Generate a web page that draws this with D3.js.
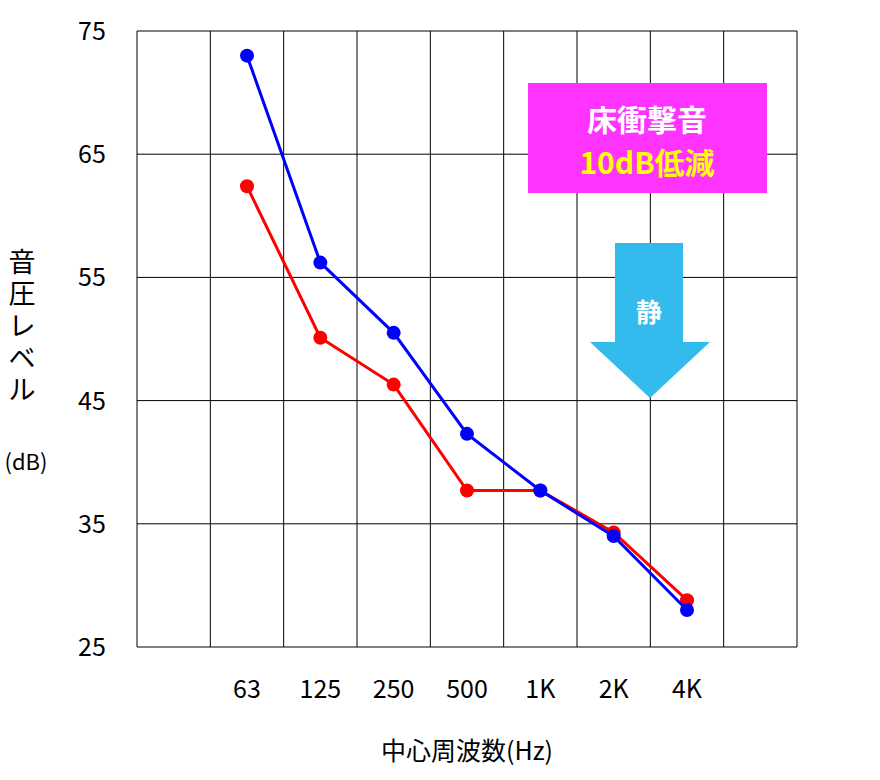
<!DOCTYPE html>
<html><head><meta charset="utf-8">
<script src="https://cdn.jsdelivr.net/npm/d3@7"></script>
<style>body{margin:0;background:#fff;font-family:"Noto Sans CJK JP","Noto Sans",sans-serif;}</style>
</head><body>
<svg id="chart" width="880" height="780"></svg>
<script>
// data
const bands = ["63", "125", "250", "500", "1K", "2K", "4K"];
const slots = ["", ...bands, ""];
const blueValues = [73, 56.2, 50.5, 42.3, 37.7, 34.0, 28.0];
const redValues = [62.4, 50.1, 46.3, 37.7, 37.7, 34.3, 28.8];
const yTicks = [25, 35, 45, 55, 65, 75];

const plotLeft = 137, plotRight = 797, plotTop = 31, plotBottom = 647;
const svg = d3.select("#chart");

const x = d3.scaleBand().domain(slots.map((d, i) => i)).range([plotLeft, plotRight]);
const y = d3.scaleLinear().domain([25, 75]).range([plotBottom, plotTop]);

// grid
svg.append("g").selectAll("line").data(d3.range(slots.length + 1)).join("line")
    .attr("x1", i => plotLeft + i * x.step()).attr("x2", i => plotLeft + i * x.step())
    .attr("y1", plotTop).attr("y2", plotBottom)
    .attr("stroke", "#000").attr("stroke-width", 1);
svg.append("g").selectAll("line").data(yTicks).join("line")
    .attr("x1", plotLeft).attr("x2", plotRight)
    .attr("y1", d => y(d)).attr("y2", d => y(d))
    .attr("stroke", "#000").attr("stroke-width", 1);

// y labels
svg.append("g").selectAll("text").data(yTicks).join("text")
    .attr("x", 92).attr("y", d => y(d) + 9)
    .attr("text-anchor", "middle").attr("font-size", 25).text(d => d);

// x labels
svg.append("g").selectAll("text").data(bands).join("text")
    .attr("x", (d, i) => x(i + 1) + x.bandwidth() / 2).attr("y", 698)
    .attr("text-anchor", "middle").attr("font-size", 25).text(d => d);

// titles
svg.append("text").attr("x", 467).attr("y", 760).attr("text-anchor", "middle")
    .attr("font-size", 25).text("中心周波数(Hz)");
["音", "圧", "レ", "ベ", "ル"].forEach((c, i) => {
    svg.append("text").attr("x", 22).attr("y", 272 + i * 32).attr("text-anchor", "middle")
        .attr("font-size", 27).text(c);
});
svg.append("text").attr("x", 26).attr("y", 470).attr("text-anchor", "middle")
    .attr("font-size", 22).text("(dB)");

// callout box
svg.append("rect").attr("x", 528).attr("y", 83).attr("width", 239).attr("height", 110).attr("fill", "#ff33ff");
svg.append("text").attr("x", 647).attr("y", 131).attr("text-anchor", "middle")
    .attr("font-size", 30).attr("font-weight", "bold").attr("fill", "#fff").text("床衝撃音");
svg.append("text").attr("x", 647).attr("y", 174).attr("text-anchor", "middle")
    .attr("font-size", 30).attr("font-weight", "bold").attr("fill", "#ffff00").text("10dB低減");

// arrow
svg.append("path").attr("d", "M615,243H683V342H710L650,398L590,342H615Z").attr("fill", "#33bbee");
svg.append("text").attr("x", 649).attr("y", 322).attr("text-anchor", "middle")
    .attr("font-size", 26).attr("font-weight", "bold").attr("fill", "#fff").text("静");

// series
const cx = i => x(i + 1) + x.bandwidth() / 2;
const line = d3.line().x((d, i) => cx(i)).y(d => y(d));
[[redValues, "#ff0000"], [blueValues, "#0000ff"]].forEach(([vals, col]) => {
    svg.append("path").datum(vals).attr("d", line).attr("fill", "none")
        .attr("stroke", col).attr("stroke-width", 3);
    svg.append("g").selectAll("circle").data(vals).join("circle")
        .attr("cx", (d, i) => cx(i)).attr("cy", d => y(d)).attr("r", 7).attr("fill", col);
});
</script>
</body></html>
